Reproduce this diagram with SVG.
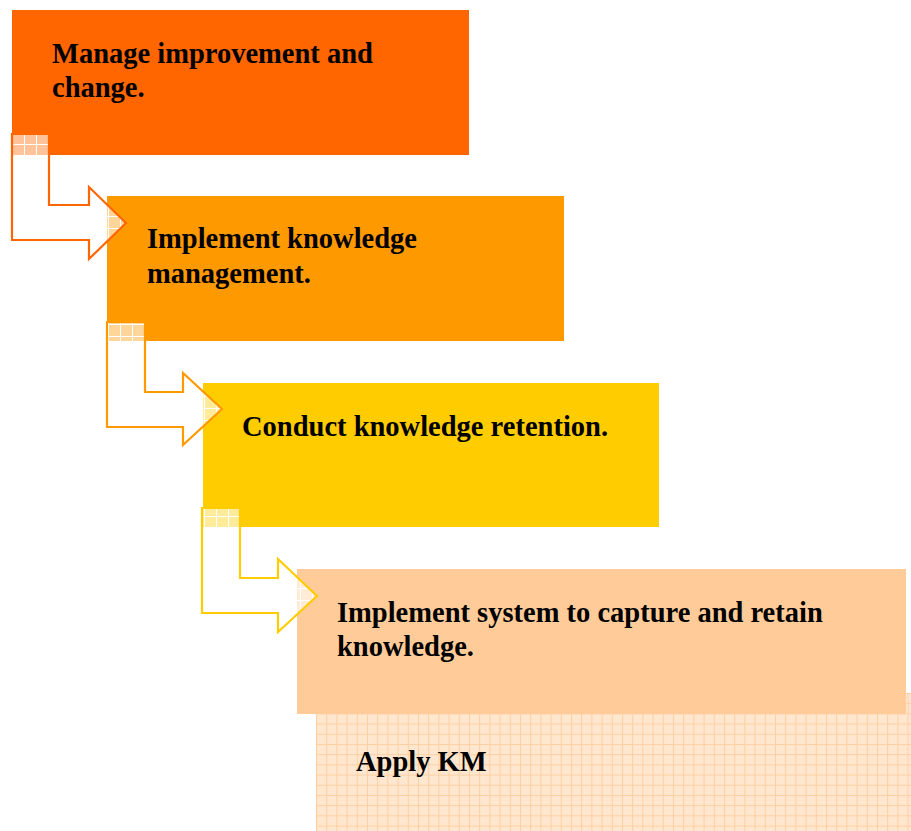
<svg xmlns="http://www.w3.org/2000/svg" width="911" height="831" viewBox="0 0 911 831">
<defs>
<style>
.t{font-family:"Liberation Serif","Times New Roman",serif;font-weight:bold;font-size:28.5px;fill:#000}
.arr{stroke-width:2.2;stroke-linejoin:miter}
</style>
<pattern id="wgrid" width="12" height="12" patternUnits="userSpaceOnUse">
<rect width="12" height="12" fill="#ffffff" fill-opacity="0.6"/>
<path d="M0 0.5H12M0.5 0V12" stroke="#ffffff" stroke-width="1"/>
</pattern>
<pattern id="pgrid" x="316" y="693" width="10.2" height="10.2" patternUnits="userSpaceOnUse">
<rect width="10.2" height="10.2" fill="#FFE6CE"/>
<path d="M0 0.5H10.2M0.5 0V10.2" stroke="#FFCC99" stroke-width="1" stroke-opacity="0.85"/>
</pattern>
</defs>
<rect width="911" height="831" fill="#ffffff"/>
<g id="node5">
<rect x="316" y="693" width="595" height="138" fill="url(#pgrid)"/>
<text class="t" x="356" y="771">Apply KM</text>
</g>
<g id="node1">
<rect x="12" y="10" width="457" height="145" fill="#FF6600"/>
<text class="t" x="52" y="63">Manage improvement and</text>
<text class="t" x="52" y="97">change.</text>
</g>
<g id="node2">
<rect x="107" y="196" width="457" height="145" fill="#FF9900"/>
<text class="t" x="147" y="248">Implement knowledge</text>
<text class="t" x="147" y="283">management.</text>
</g>
<g id="node3">
<rect x="203" y="383" width="456" height="144" fill="#FFCC00"/>
<text class="t" x="242" y="436">Conduct knowledge retention.</text>
</g>
<g id="node4">
<rect x="297" y="569" width="609" height="145" fill="#FFCC99"/>
<text class="t" x="337" y="622">Implement system to capture and retain</text>
<text class="t" x="337" y="656">knowledge.</text>
</g>
<g id="connectors">
<path class="arr" d="M12,134 L49,134 L49,205 L89,205 L89,187 L126,223 L89,259 L89,240 L12,240 Z" fill="url(#wgrid)" stroke="#FF6600"/>
<path class="arr" d="M107,322 L145,322 L145,392 L183,392 L183,373 L222,409 L183,445 L183,427 L107,427 Z" fill="url(#wgrid)" stroke="#FF9900"/>
<path class="arr" d="M202,508 L240,508 L240,578 L278,578 L278,559 L317,596 L278,632 L278,613 L202,613 Z" fill="url(#wgrid)" stroke="#FFCC00"/>
</g>
</svg>
